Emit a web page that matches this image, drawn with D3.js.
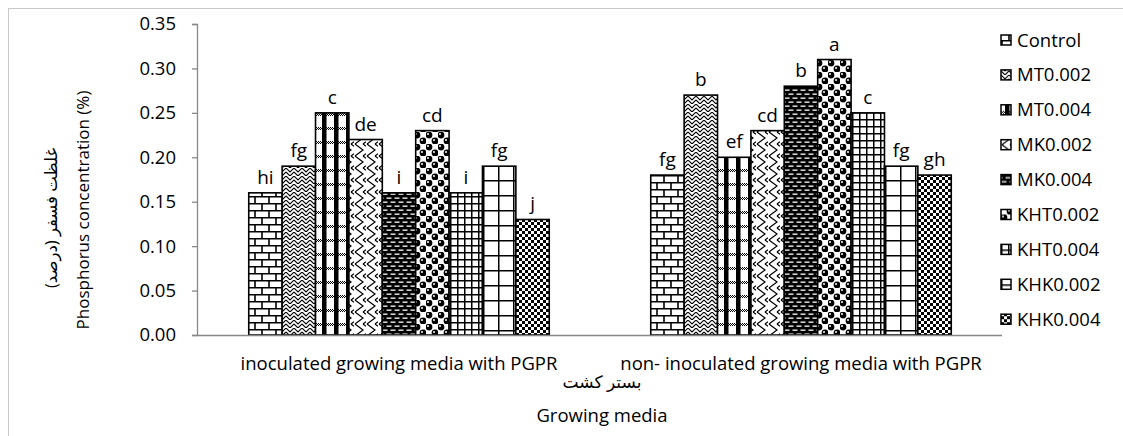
<!DOCTYPE html>
<html>
<head>
<meta charset="utf-8">
<script src="https://cdn.jsdelivr.net/npm/d3@7"></script>
<style>
  body { margin: 0; background: #fff; }
  text { font-family: "Open Sans", "DejaVu Sans", sans-serif; fill: #000; }
</style>
</head>
<body>
<svg width="1123" height="436"></svg>
<script>
var categories = ["inoculated growing media with PGPR", "non- inoculated growing media with PGPR"];
var series = ["Control", "MT0.002", "MT0.004", "MK0.002", "MK0.004", "KHT0.002", "KHT0.004", "KHK0.002", "KHK0.004"];
var inoculated = [0.16, 0.19, 0.25, 0.22, 0.16, 0.23, 0.16, 0.19, 0.13];
var nonInoculated = [0.18, 0.27, 0.20, 0.23, 0.28, 0.31, 0.25, 0.19, 0.18];
var lettersIn = ["hi", "fg", "c", "de", "i", "cd", "i", "fg", "j"];
var lettersNon = ["fg", "b", "ef", "cd", "b", "a", "c", "fg", "gh"];
var yTicks = [0, 0.05, 0.10, 0.15, 0.20, 0.25, 0.30, 0.35];

var svg = d3.select("svg");
var defs = svg.append("defs");

// fill patterns, one per series
function pat(id, w, h, bg) {
  var p = defs.append("pattern").attr("id", id)
    .attr("patternUnits", "userSpaceOnUse").attr("width", w).attr("height", h);
  p.append("rect").attr("width", w).attr("height", h).attr("fill", bg);
  return p;
}
var p;
// brick
p = pat("p0", 14, 14, "#fff");
p.append("path").attr("d", "M0,0.75H14M0,7.75H14M1,0V7M8,7V14").attr("stroke", "#000").attr("stroke-width", 1.6).attr("fill", "none");
// weave
p = pat("p1", 8, 8, "#fff");
p.append("path").attr("d", "M0,0L4,4L8,0M0,4L4,8L8,4").attr("stroke", "#000").attr("stroke-width", 1.1).attr("fill", "none");
// plaid
p = pat("p2", 12, 14, "#fff");
p.append("rect").attr("x", 4).attr("y", 0).attr("width", 4.5).attr("height", 14).attr("fill", "#000");
for (var i = 0; i < 12; i++) {
  for (var j = 0; j < 3; j++) {
    if ((i + j) % 2 === 0) p.append("rect").attr("x", i).attr("y", j + 1).attr("width", 1).attr("height", 1).attr("fill", "#000");
  }
}
// chevron wave
p = pat("p3", 12, 12, "#fff");
p.append("path").attr("d", "M1,0L9,6L1,12M9,0L12,2.2M9,12L12,9.8").attr("stroke", "#000").attr("stroke-width", 1.2).attr("fill", "none");
// dark dashes
p = pat("p4", 8, 8, "#000");
p.append("rect").attr("x", 0.5).attr("y", 1.5).attr("width", 5).attr("height", 1.3).attr("fill", "#fff");
p.append("rect").attr("x", 4.5).attr("y", 5.5).attr("width", 5).attr("height", 1.3).attr("fill", "#fff");
p.append("rect").attr("x", -3.5).attr("y", 5.5).attr("width", 5).attr("height", 1.3).attr("fill", "#fff");
// spheres
p = pat("p5", 12, 12, "#fff");
p.append("circle").attr("cx", 3).attr("cy", 3).attr("r", 3.4).attr("fill", "#000");
p.append("circle").attr("cx", 9).attr("cy", 9).attr("r", 3.4).attr("fill", "#000");
p.append("circle").attr("cx", 2).attr("cy", 2).attr("r", 1).attr("fill", "#fff");
p.append("circle").attr("cx", 8).attr("cy", 8).attr("r", 1).attr("fill", "#fff");
// small grid
p = pat("p6", 7, 7, "#fff");
p.append("path").attr("d", "M0.75,0V7M0,0.75H7").attr("stroke", "#000").attr("stroke-width", 1.5);
// large grid
p = pat("p7", 15, 15, "#fff");
p.append("path").attr("d", "M0.75,0V15M0,0.75H15").attr("stroke", "#000").attr("stroke-width", 1.5);
// checker
p = pat("p8", 6, 6, "#000");
p.append("rect").attr("x", 0).attr("y", 0).attr("width", 3).attr("height", 3).attr("fill", "#fff");
p.append("rect").attr("x", 3).attr("y", 3).attr("width", 3).attr("height", 3).attr("fill", "#fff");

// outer border
svg.append("rect").attr("x", 8.5).attr("y", 8.5).attr("width", 1200).attr("height", 500)
  .attr("fill", "none").attr("stroke", "#c8c8c8").attr("stroke-width", 1);

var x0 = d3.scaleBand().domain(categories).range([198, 1002]);
var x1 = d3.scaleBand().domain(series).range([0, x0.bandwidth()]).paddingOuter(1.52);
var y = d3.scaleLinear().domain([0, 0.35]).range([335, 24]);

// y axis
var yAxis = svg.append("g").attr("transform", "translate(197,0)")
  .call(d3.axisLeft(y).tickValues(yTicks).tickFormat(d3.format(".2f")).tickSize(5).tickPadding(16));
yAxis.selectAll("path, line").attr("stroke", "#888").attr("stroke-width", 1.3);
yAxis.selectAll("text").style("font-size", "18.5px").style("font-family", "'Open Sans', sans-serif").attr("fill", "#000");

var data = categories.map(function(c, ci) {
  var vals = ci === 0 ? inoculated : nonInoculated;
  var lets = ci === 0 ? lettersIn : lettersNon;
  return { cat: c, items: series.map(function(s, si) { return { s: s, si: si, v: vals[si], l: lets[si] }; }) };
});

var groups = svg.selectAll("g.grp").data(data).enter().append("g")
  .attr("class", "grp")
  .attr("transform", function(d) { return "translate(" + x0(d.cat) + ",0)"; });

groups.selectAll("rect").data(function(d) { return d.items; }).enter().append("rect")
  .attr("x", function(d) { return x1(d.s); })
  .attr("y", function(d) { return y(d.v); })
  .attr("width", x1.bandwidth())
  .attr("height", function(d) { return y(0) - y(d.v); })
  .attr("fill", function(d) { return "url(#p" + d.si + ")"; })
  .attr("stroke", "#000").attr("stroke-width", 1.6);

groups.selectAll("text.lt").data(function(d) { return d.items; }).enter().append("text")
  .attr("class", "lt")
  .attr("x", function(d) { return x1(d.s) + x1.bandwidth() / 2; })
  .attr("y", function(d) { return y(d.v) - 9; })
  .attr("text-anchor", "middle")
  .style("font-size", "19px")
  .text(function(d) { return d.l; });

// x axis line
svg.append("line").attr("x1", 197).attr("x2", 1002).attr("y1", 335.5).attr("y2", 335.5)
  .attr("stroke", "#888").attr("stroke-width", 1.3);

svg.selectAll("text.cat").data(categories).enter().append("text")
  .attr("class", "cat")
  .attr("x", function(d) { return x0(d) + x0.bandwidth() / 2; })
  .attr("y", 370)
  .attr("text-anchor", "middle")
  .style("font-size", "18.5px")
  .text(function(d) { return d; });

svg.append("text").attr("x", 602).attr("y", 388).attr("text-anchor", "middle")
  .style("font-size", "17px").text("بستر کشت");
svg.append("text").attr("x", 602).attr("y", 422).attr("text-anchor", "middle")
  .style("font-size", "18.5px").text("Growing media");

// y titles
svg.append("text").attr("transform", "translate(57,218) rotate(-90)").attr("text-anchor", "middle")
  .style("font-size", "16.5px").text("غلظت فسفر (درصد)");
svg.append("text").attr("transform", "translate(89,210) rotate(-90)").attr("text-anchor", "middle")
  .style("font-size", "17px").text("Phosphorus concentration (%)");

// legend
var leg = svg.selectAll("g.leg").data(series).enter().append("g")
  .attr("class", "leg")
  .attr("transform", function(d, i) { return "translate(1001," + (40 + i * 34.9) + ")"; });
leg.append("rect").attr("x", 0).attr("y", -5).attr("width", 10).attr("height", 10)
  .attr("fill", function(d, i) { return "url(#p" + i + ")"; })
  .attr("stroke", "#000").attr("stroke-width", 1.5);
leg.append("text").attr("x", 16).attr("y", 6.5).style("font-size", "18.5px").text(function(d) { return d; });
</script>
</body>
</html>
